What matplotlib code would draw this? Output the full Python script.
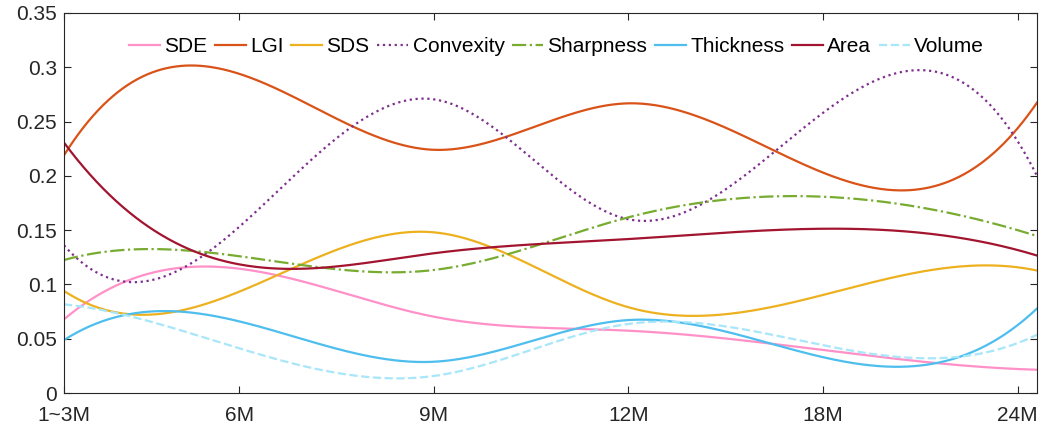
import numpy as np
import matplotlib
matplotlib.use("Agg")
import matplotlib.pyplot as plt

categories = ["1~3M", "6M", "9M", "12M", "18M", "24M"]
SDE = [0.0679, 0.1145, 0.0703, 0.0574, 0.0396, 0.0221]
LGI = [0.219, 0.294, 0.224, 0.2668, 0.203, 0.2438]
SDS = [0.094, 0.0933, 0.148, 0.079, 0.0903, 0.1158]
Convexity = [0.136, 0.153, 0.2705, 0.16, 0.258, 0.232]
Sharpness = [0.1225, 0.126, 0.1133, 0.1618, 0.1808, 0.150]
Thickness = [0.0488, 0.066, 0.0288, 0.0672, 0.033, 0.0625]
Area = [0.2306, 0.1185, 0.1287, 0.1418, 0.1513, 0.1317]
Volume = [0.0817, 0.0412, 0.0157, 0.0636, 0.044, 0.046]
yticks = [0, 0.05, 0.1, 0.15, 0.2, 0.25, 0.3, 0.35]
ytick_labels = ["0", "0.05", "0.1", "0.15", "0.2", "0.25", "0.3", "0.35"]

series = [
    ("SDE", SDE, "#FF90C8", "-"),
    ("LGI", LGI, "#D95319", "-"),
    ("SDS", SDS, "#EDB120", "-"),
    ("Convexity", Convexity, "#7E2F8E", ":"),
    ("Sharpness", Sharpness, "#77AC30", "-."),
    ("Thickness", Thickness, "#4DBEEE", "-"),
    ("Area", Area, "#A2142F", "-"),
    ("Volume", Volume, "#A8E6FA", "--"),
]

xpos = np.array([0.1, 1, 2, 3, 4, 5], dtype=float)


def spline_nak(x, y, xs):
    x = np.asarray(x, float)
    y = np.asarray(y, float)
    n = len(x)
    h = np.diff(x)
    A = np.zeros((n, n))
    b = np.zeros(n)
    A[0, 0] = -h[1]
    A[0, 1] = h[0] + h[1]
    A[0, 2] = -h[0]
    for i in range(1, n - 1):
        A[i, i - 1] = h[i - 1]
        A[i, i] = 2 * (h[i - 1] + h[i])
        A[i, i + 1] = h[i]
        b[i] = 6 * ((y[i + 1] - y[i]) / h[i] - (y[i] - y[i - 1]) / h[i - 1])
    A[n - 1, n - 3] = -h[n - 2]
    A[n - 1, n - 2] = h[n - 2] + h[n - 3]
    A[n - 1, n - 1] = -h[n - 3]
    M = np.linalg.solve(A, b)
    idx = np.clip(np.searchsorted(x, xs) - 1, 0, n - 2)
    x0 = x[idx]
    x1 = x[idx + 1]
    hh = x1 - x0
    return (M[idx] * (x1 - xs) ** 3 / (6 * hh) + M[idx + 1] * (xs - x0) ** 3 / (6 * hh)
            + (y[idx] / hh - M[idx] * hh / 6) * (x1 - xs)
            + (y[idx + 1] / hh - M[idx + 1] * hh / 6) * (xs - x0))


plt.rcParams["font.family"] = ["Liberation Sans", "DejaVu Sans"]
fig = plt.figure(figsize=(10.41, 4.30), dpi=100)
ax = fig.add_axes([0.0615, 0.086, 0.9347, 0.8838])

xs = np.linspace(0.1, 5.1, 600)
for name, vals, col, ls in series:
    ax.plot(xs, spline_nak(xpos, vals, xs), color=col, linestyle=ls, lw=1.6, label=name)

ax.set_xlim(0.1, 5.1)
ax.set_ylim(0, 0.35)
ax.set_xticks(xpos)
ax.set_xticklabels(categories)
ax.set_yticks(yticks)
ax.set_yticklabels(ytick_labels)
ax.tick_params(direction="in", top=True, right=True, labelsize=15, length=5,
               width=0.8, color="#262626", labelcolor="#262626")
ax.tick_params(axis="x", pad=9)
ax.tick_params(axis="y", pad=5)
for s in ax.spines.values():
    s.set_color("#262626")
    s.set_linewidth(0.8)

ax.legend(loc="upper center", bbox_to_anchor=(0.506, 0.98), ncol=8, frameon=False,
          fontsize=15, handlelength=1.5, handletextpad=0.2, columnspacing=0.36,
          borderpad=0.3)

fig.savefig("out.png", dpi=100)
